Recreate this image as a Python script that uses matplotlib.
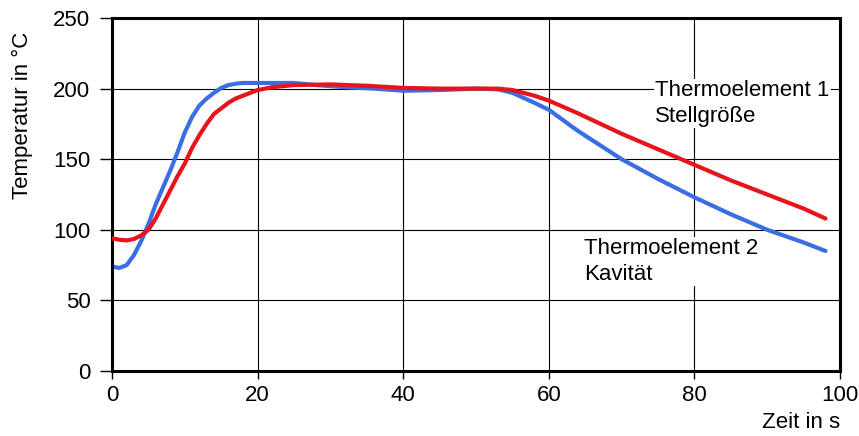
import matplotlib.pyplot as plt
import numpy as np

plt.rcParams['font.family'] = ['Liberation Sans', 'DejaVu Sans']

# Thermoelement 2 (Kavität) - blue
t_blue = [0, 1, 2, 3, 4, 5, 6, 7, 8, 9, 10, 11, 12, 13, 14, 15, 16, 17, 18,
          20, 22, 25, 28, 32, 36, 40, 45, 50, 53, 55, 58, 60, 64, 70, 75, 80,
          85, 90, 95, 98]
temp_blue = [74, 73, 75, 82, 92, 104, 118, 130, 142, 155, 169, 180, 188, 193,
             197, 200.5, 202.5, 203.5, 204, 204, 204, 204, 202.5, 201, 200,
             198.5, 199, 200, 199.5, 197, 190, 185, 170, 150, 136, 123, 111,
             100, 91, 85]

# Thermoelement 1 (Stellgröße) - red
t_red = [0, 1, 2, 3, 4, 5, 6, 7, 8, 9, 10, 11, 12, 13, 14, 15, 16, 17, 18,
         20, 22, 25, 30, 35, 40, 45, 50, 53, 55, 58, 60, 64, 70, 75, 80, 85,
         90, 95, 98]
temp_red = [94, 93, 92.5, 93.5, 96, 100, 108, 118, 128, 138, 147, 158, 167,
            175, 182, 186, 190, 193, 195, 199, 201, 202.5, 203, 202, 200.5,
            200, 200, 200, 199, 195, 191.5, 182.5, 168, 157, 146, 135, 125,
            115, 108]

xticks = [0, 20, 40, 60, 80, 100]
yticks = [0, 50, 100, 150, 200, 250]

fig = plt.figure(figsize=(8.59, 4.36), dpi=100)
ax = fig.add_axes([0.1304, 0.149, 0.8476, 0.8097])

ax.plot(t_red, temp_red, color='#e8141c', lw=3, solid_capstyle='round', zorder=3)
ax.plot(t_blue, temp_blue, color='#3b6ee3', lw=3, solid_capstyle='round', zorder=2)

ax.set_xlim(0, 100)
ax.set_ylim(0, 250)
ax.set_xticks(xticks)
ax.set_yticks(yticks)
ax.grid(True, color='black', lw=0.8)
ax.set_axisbelow(True)
for s in ax.spines.values():
    s.set_linewidth(2.2)
ax.tick_params(direction='out', width=1, labelsize=16)
ax.tick_params(axis='y', length=8.5, pad=7)
ax.tick_params(axis='x', length=6, pad=4)

ax.text(1.0, -0.145, 'Zeit in s', transform=ax.transAxes, ha='right',
        va='center', fontsize=16)
fig.text(22 / 859, 1 - 115 / 436, 'Temperatur in °C', rotation=90,
         ha='center', va='center', fontsize=16)

box = dict(facecolor='white', edgecolor='none', pad=1)
ax.text(74.6, 206, 'Thermoelement 1\nStellgröße', ha='left', va='top',
        fontsize=16, linespacing=1.3, bbox=box, zorder=4)
ax.text(64.8, 94, 'Thermoelement 2\nKavität', ha='left', va='top',
        fontsize=16, linespacing=1.3, bbox=box, zorder=4)

fig.savefig('out.png', dpi=100)
